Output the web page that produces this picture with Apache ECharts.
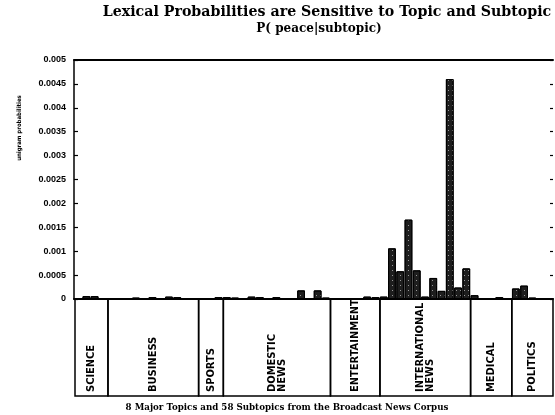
<!DOCTYPE html>
<html>
<head>
<meta charset="utf-8">
<script src="https://cdn.jsdelivr.net/npm/echarts@6/dist/echarts.min.js"></script>
<style>html,body{margin:0;padding:0;background:#fff;}#c{width:555px;height:415px;}</style>
</head>
<body>
<div id="c"></div>
<script>
// Major topics and how many subtopics each holds (58 in total)
const topics = ['SCIENCE', 'BUSINESS', 'SPORTS', 'DOMESTIC\nNEWS', 'ENTERTAINMENT', 'INTERNATIONAL\nNEWS', 'MEDICAL', 'POLITICS'];
const topicSubtopicCounts = [4, 11, 3, 13, 6, 11, 5, 5];

// P(peace | subtopic), one value per subtopic, in topic order
const scienceProb = [0.00002, 0.00006, 0.00006, 0.00002];
const businessProb = [0.00001, 0.00001, 0.00002, 0.00003, 0.00002, 0.00004, 0.00002, 0.00005, 0.00004, 0.00001, 0.00002];
const sportsProb = [0.00001, 0.00002, 0.00004];
const domesticProb = [0.00004, 0.00003, 0.00002, 0.00005, 0.00004, 0.00002, 0.00004, 0.00001, 0.00002, 0.00018, 0.00002, 0.00018, 0.00003];
const entertainmentProb = [0.00002, 0.00002, 0.00001, 0.00002, 0.00005, 0.00004];
const internationalProb = [0.00005, 0.00106, 0.00058, 0.00166, 0.0006, 0.00005, 0.00044, 0.00017, 0.0046, 0.00024, 0.00064];
const medicalProb = [0.00008, 0.00002, 0.00002, 0.00004, 0.00002];
const politicsProb = [0.00022, 0.00028, 0.00003, 0.00002, 0.00001];

const yMin = 0, yMax = 0.005, yInterval = 0.0005;

const titleText = 'Lexical Probabilities are Sensitive to Topic and Subtopic';
const subtitleText = 'P( peace|subtopic)';
const yAxisTitle = 'unigram probabilities';
const xAxisTitle = '8 Major Topics and 58 Subtopics from the Broadcast News Corpus';

const values = [].concat(scienceProb, businessProb, sportsProb, domesticProb, entertainmentProb, internationalProb, medicalProb, politicsProb);
const subtopics = values.map((v, i) => 'S' + (i + 1));

const topicCells = [];
let acc = 0;
topicSubtopicCounts.forEach((n, i) => { topicCells.push([acc, acc + n, i]); acc += n; });

const chart = echarts.init(document.getElementById('c'), null, {renderer: 'canvas'});
const LEFT = 74, RIGHT = 2;
chart.setOption({
  animation: false,
  backgroundColor: '#fff',
  aria: {enabled: true, decal: {show: true}},
  grid: [
    {left: LEFT, right: RIGHT, top: 60, bottom: 116},
    {left: LEFT + 1, right: RIGHT, top: 299, bottom: 19}
  ],
  xAxis: [
    {type: 'category', gridIndex: 0, data: subtopics, boundaryGap: true,
     axisLine: {onZero: false, lineStyle: {color: '#000', width: 2}}, axisTick: {show: false}, axisLabel: {show: false}},
    {type: 'category', gridIndex: 0, position: 'top', data: subtopics,
     axisLine: {onZero: false, lineStyle: {color: '#000', width: 2}}, axisTick: {show: false}, axisLabel: {show: false}},
    {type: 'value', gridIndex: 1, min: 0, max: subtopics.length, show: false}
  ],
  yAxis: [
    {type: 'value', gridIndex: 0, min: yMin, max: yMax, interval: yInterval,
     axisLine: {show: true, lineStyle: {color: '#000', width: 1.5}},
     axisTick: {show: true, inside: true, length: 4, lineStyle: {color: '#000', width: 1.2}},
     axisLabel: {color: '#000', fontSize: 9, fontWeight: 'bold', fontFamily: 'Liberation Sans, Arial, sans-serif', margin: 8},
     splitLine: {show: false}},
    {type: 'value', gridIndex: 0, position: 'right', min: yMin, max: yMax, interval: yInterval,
     axisLine: {show: false},
     axisTick: {show: true, inside: true, length: 3, lineStyle: {color: '#000', width: 1.2}},
     axisLabel: {show: false}, splitLine: {show: false}},
    {type: 'value', gridIndex: 1, min: 0, max: 1, show: false}
  ],
  series: [
    {type: 'bar', xAxisIndex: 0, yAxisIndex: 0, data: values, barCategoryGap: '6%',
     itemStyle: {color: '#1e1e1e', borderColor: '#000', borderWidth: 1,
       decal: {symbol: 'rect', symbolSize: 1, color: 'rgba(255,255,255,0.55)', dashArrayX: [1, 3], dashArrayY: [1, 4], rotation: 0}}},
    {type: 'custom', xAxisIndex: 2, yAxisIndex: 2, data: topicCells,
     renderItem: function (params, api) {
       const x0 = api.coord([api.value(0), 0])[0];
       const x1 = api.coord([api.value(1), 0])[0];
       const yTop = api.coord([0, 1])[1];
       const yBot = api.coord([0, 0])[1];
       return {type: 'group', children: [
         {type: 'rect', shape: {x: x0, y: yTop, width: x1 - x0, height: yBot - yTop},
          style: {fill: 'none', stroke: '#000', lineWidth: 1.5}},
         {type: 'text', x: (x0 + x1) / 2, y: yBot - 4, rotation: Math.PI / 2,
          style: {text: topics[api.value(2)], fill: '#000', align: 'left', verticalAlign: 'middle',
            font: 'bold 11px "DejaVu Sans Condensed", "Liberation Sans Narrow", sans-serif', lineHeight: 10}}
       ]};
     }}
  ],
  graphic: [
    {type: 'text', x: 327, y: 12, style: {text: titleText, fill: '#000', align: 'center', verticalAlign: 'middle',
      font: 'bold 14.2px "DejaVu Serif", serif'}},
    {type: 'text', x: 319, y: 29, style: {text: subtitleText, fill: '#000', align: 'center', verticalAlign: 'middle',
      font: 'bold 12px "DejaVu Serif", serif'}},
    {type: 'text', x: 19, y: 128, rotation: Math.PI / 2, style: {text: yAxisTitle, fill: '#000', align: 'center', verticalAlign: 'middle',
      font: 'bold 6px "DejaVu Sans Condensed", Arial, sans-serif'}},
    {type: 'text', x: 287, y: 408, style: {text: xAxisTitle, fill: '#000', align: 'center', verticalAlign: 'middle',
      font: 'bold 8.7px "DejaVu Serif", serif'}}
  ]
});
</script>
</body>
</html>
